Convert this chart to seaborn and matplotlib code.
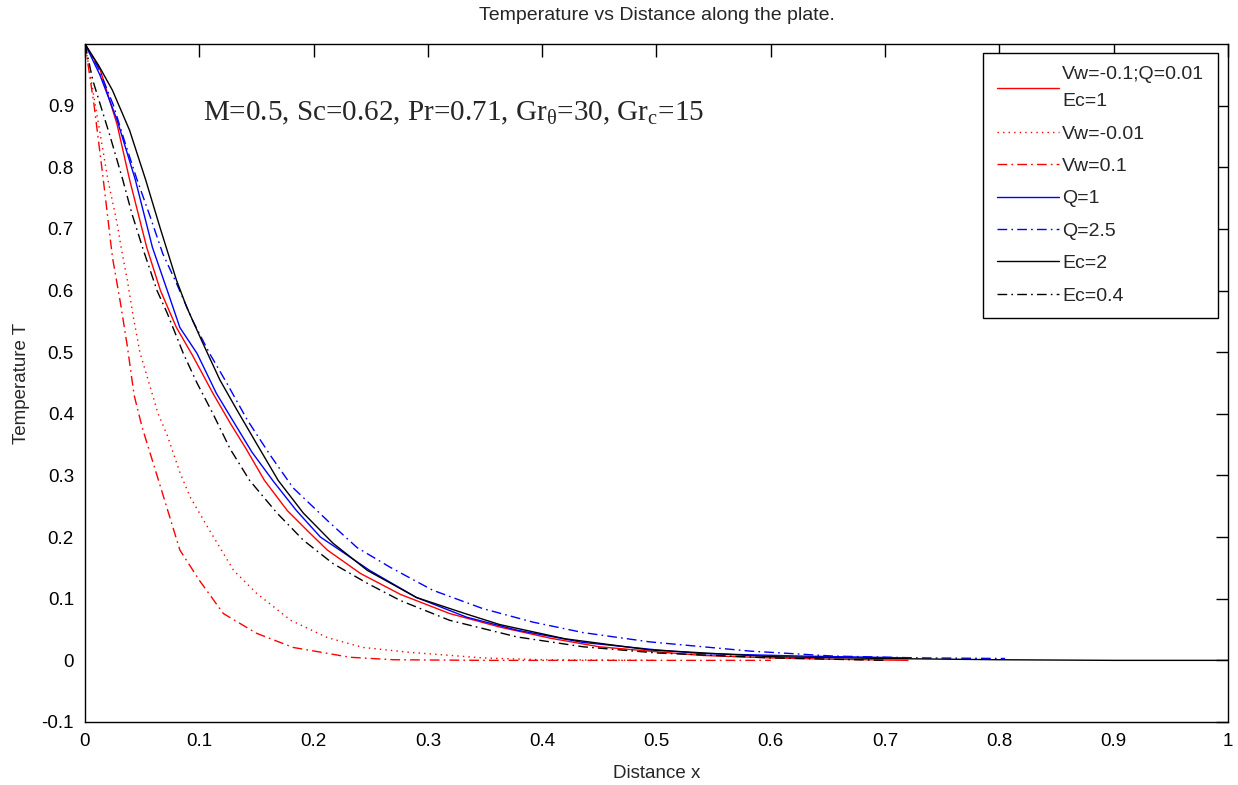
import matplotlib
matplotlib.use("Agg")
import matplotlib.pyplot as plt
import seaborn as sns
import pandas as pd

# ---- data ----
labels = ["Vw=-0.1;Q=0.01\nEc=1", "Vw=-0.01", "Vw=0.1", "Q=1", "Q=2.5", "Ec=2", "Ec=0.4"]

x_base = [0, 0.013, 0.028, 0.039, 0.054, 0.066, 0.080, 0.094, 0.112, 0.127, 0.141, 0.157,
          0.177, 0.197, 0.212, 0.241, 0.276, 0.319, 0.363, 0.407, 0.45, 0.5, 0.54, 0.6, 0.65, 0.72]
y_base = [1, 0.96, 0.87, 0.78, 0.67, 0.60, 0.54, 0.495, 0.433, 0.385, 0.343, 0.292,
          0.243, 0.206, 0.179, 0.141, 0.107, 0.076, 0.054, 0.036, 0.022, 0.014, 0.008, 0.004, 0.002, 0.0]

x_vw001 = [0, 0.01, 0.02, 0.028, 0.032, 0.037, 0.042, 0.048, 0.056, 0.064, 0.072, 0.083, 0.092,
           0.108, 0.13, 0.15, 0.18, 0.212, 0.243, 0.284, 0.32, 0.348, 0.4, 0.5]
y_vw001 = [1, 0.89, 0.78, 0.71, 0.666, 0.617, 0.56, 0.50, 0.45, 0.40, 0.365, 0.305, 0.265,
           0.214, 0.146, 0.109, 0.065, 0.037, 0.021, 0.013, 0.008, 0.004, 0.001, 0.0]

x_vw01 = [0, 0.008, 0.016, 0.024, 0.031, 0.037, 0.043, 0.05, 0.063, 0.083, 0.1, 0.121, 0.15,
          0.182, 0.232, 0.27, 0.35, 0.45, 0.55, 0.6]
y_vw01 = [1.0, 0.9, 0.78, 0.654, 0.58, 0.51, 0.43, 0.378, 0.30, 0.179, 0.13, 0.076, 0.044,
          0.021, 0.005, 0.001, 0, 0, 0, 0]

x_q1 = [0, 0.013, 0.028, 0.044, 0.059, 0.072, 0.083, 0.098, 0.115, 0.129, 0.146, 0.165, 0.185,
        0.206, 0.226, 0.249, 0.29, 0.334, 0.378, 0.436, 0.5, 0.54, 0.626, 0.72]
y_q1 = [1, 0.95, 0.877, 0.78, 0.67, 0.60, 0.54, 0.498, 0.433, 0.39, 0.338, 0.29, 0.243,
        0.20, 0.175, 0.146, 0.102, 0.07, 0.049, 0.029, 0.017, 0.011, 0.007, 0.004]

x_q25 = [0, 0.012, 0.025, 0.035, 0.0455, 0.057, 0.068, 0.08, 0.0945, 0.109, 0.124, 0.142, 0.162,
         0.182, 0.212, 0.238, 0.267, 0.304, 0.348, 0.392, 0.436, 0.494, 0.582, 0.654, 0.73, 0.805]
y_q25 = [1, 0.96, 0.9, 0.84, 0.78, 0.72, 0.66, 0.612, 0.55, 0.498, 0.45, 0.39, 0.333,
         0.28, 0.227, 0.183, 0.151, 0.114, 0.084, 0.062, 0.045, 0.03, 0.015, 0.007, 0.004, 0.003]

x_ec2 = [0, 0.012, 0.024, 0.039, 0.053, 0.066, 0.080, 0.089, 0.103, 0.118, 0.133, 0.150, 0.169,
         0.191, 0.217, 0.247, 0.29, 0.334, 0.363, 0.42, 0.494, 0.6, 0.7, 0.8, 0.9, 1.0]
y_ec2 = [1, 0.965, 0.925, 0.86, 0.78, 0.70, 0.617, 0.573, 0.515, 0.455, 0.406, 0.352, 0.292,
         0.239, 0.19, 0.146, 0.102, 0.075, 0.058, 0.035, 0.017, 0.006, 0.003, 0.001, 0, 0]

x_ec04 = [0, 0.007, 0.022, 0.033, 0.041, 0.051, 0.063, 0.072, 0.086, 0.098, 0.112, 0.127, 0.144,
          0.168, 0.191, 0.217, 0.247, 0.276, 0.319, 0.378, 0.436, 0.5, 0.6, 0.7]
y_ec04 = [1, 0.94, 0.85, 0.78, 0.725, 0.666, 0.60, 0.563, 0.498, 0.45, 0.40, 0.343, 0.292,
          0.239, 0.195, 0.157, 0.125, 0.097, 0.065, 0.038, 0.022, 0.012, 0.004, 0.0]

xs = [x_base, x_vw001, x_vw01, x_q1, x_q25, x_ec2, x_ec04]
ys = [y_base, y_vw001, y_vw01, y_q1, y_q25, y_ec2, y_ec04]

x_ticks = [0, 0.1, 0.2, 0.3, 0.4, 0.5, 0.6, 0.7, 0.8, 0.9, 1]
x_ticklabels = ["0", "0.1", "0.2", "0.3", "0.4", "0.5", "0.6", "0.7", "0.8", "0.9", "1"]
y_ticks = [-0.1, 0, 0.1, 0.2, 0.3, 0.4, 0.5, 0.6, 0.7, 0.8, 0.9]
y_ticklabels = ["-0.1", "0", "0.1", "0.2", "0.3", "0.4", "0.5", "0.6", "0.7", "0.8", "0.9"]

colors = ["#ff0000", "#ff0000", "#ff0000", "#0000ff", "#0000ff", "#000000", "#000000"]
dashdot = (0, (7, 3, 1.2, 3))
styles = ["-", (0, (1, 3)), dashdot, "-", dashdot, "-", dashdot]

# ---- plotting ----
sns.set_style("white")
plt.rcParams["font.family"] = ["Liberation Sans", "DejaVu Sans"]
plt.rcParams["mathtext.fontset"] = "custom"
plt.rcParams["mathtext.rm"] = "Liberation Serif"

fig = plt.figure(figsize=(12.38, 7.85), dpi=100)
ax = fig.add_axes([85 / 1238, 63 / 785, 1143 / 1238, 678 / 785])

for x, y, lab, c, ls in zip(xs, ys, labels, colors, styles):
    df = pd.DataFrame({"x": x, "y": y})
    sns.lineplot(data=df, x="x", y="y", ax=ax, color=c, linestyle=ls,
                 linewidth=1.0, label=lab, sort=False, estimator=None)

ax.set_xlim(0, 1)
ax.set_ylim(-0.1, 1.0)
ax.set_xticks(x_ticks)
ax.set_xticklabels(x_ticklabels)
ax.set_yticks(y_ticks)
ax.set_yticklabels(y_ticklabels)
ax.tick_params(direction="in", length=9, width=1, top=True, right=True,
               labelsize=13.5, pad=8, colors="black")
for s in ax.spines.values():
    s.set_color("black")
    s.set_linewidth(1)
    s.set_visible(True)

ax.set_xlabel("Distance x", fontsize=13.5, labelpad=11)
ax.set_ylabel("Temperature T", fontsize=13.5, labelpad=8)
ax.set_title("Temperature vs Distance along the plate.", fontsize=14, pad=17)

ax.text(0.103, 0.898,
        r"M=0.5, Sc=0.62, Pr=0.71, Gr$_\mathregular{\theta}$=30, Gr$_\mathregular{c}$=15",
        transform=ax.transAxes, fontsize=21, family=["Liberation Serif", "DejaVu Serif"],
        va="center", ha="left")

leg = ax.legend(loc="upper right", bbox_to_anchor=(0.991, 0.987), borderaxespad=0,
                fontsize=14, handlelength=3.2, handletextpad=0.15, labelspacing=0.76,
                frameon=True, fancybox=False, framealpha=1, edgecolor="black",
                borderpad=0.7)
leg.get_frame().set_linewidth(1)
leg.get_texts()[0].set_linespacing(1.75)

fig.savefig("out.png", dpi=100)
